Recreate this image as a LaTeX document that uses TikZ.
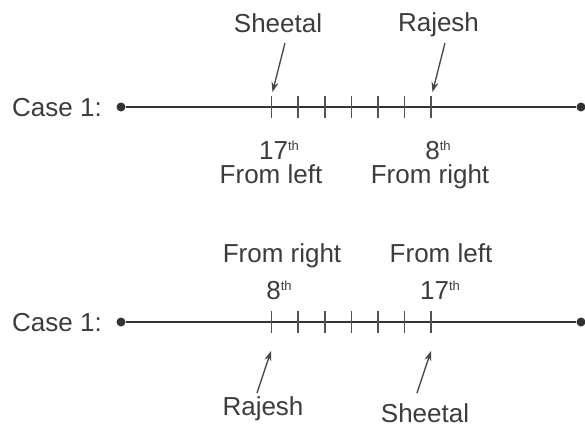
\documentclass[tikz,border=0pt]{standalone}
\usepackage{fontspec}
\setmainfont{Liberation Sans}
\usetikzlibrary{arrows.meta}
\definecolor{txt}{HTML}{3C3C3C}
\definecolor{ln}{HTML}{333333}
\newcommand{\thsup}{\raisebox{8.5pt}{\fontsize{13}{13}\selectfont th}}
\tikzset{
  lbl/.style={inner sep=0pt, anchor=base, text=txt, font=\fontsize{26}{30}\selectfont},
  mainline/.style={draw=ln, line width=2pt},
  tickmark/.style={draw=ln!85, line width=1.6pt},
  enddot/.style={circle, fill=ln, inner sep=0pt, minimum size=9pt},
  ptr/.style={draw=ln!90, line width=1.3pt, -{Stealth[length=10pt,width=7pt]}},
}
\begin{document}
\begin{tikzpicture}[x=1pt,y=-1pt]
\useasboundingbox (0,0) rectangle (585,429);
\fill[white] (0,0) rectangle (585,429);

% ---------- Case 1 (top) ----------
\node[lbl, anchor=base west] (c1) at (12,116) {Case 1:};
\node[enddot] (l1) at (121,107) {};
\node[enddot] (r1) at (581,107) {};
\draw[mainline] (l1) -- (r1);
\foreach \i in {0,...,6} {
  \coordinate (a\i) at ({271.5+26.6*\i},96);
  \coordinate (b\i) at ({271.5+26.6*\i},118);
  \draw[tickmark] (a\i) -- (b\i);
}
\node[lbl] (sh1) at (278,32) {Sheetal};
\node[lbl] (ra1) at (438.5,31) {Rajesh};
\coordinate (sh1t) at (285,43);
\coordinate (sh1h) at (272.5,92);
\coordinate (ra1t) at (445,43);
\coordinate (ra1h) at (432.5,92);
\draw[ptr] (sh1t) -- (sh1h);
\draw[ptr] (ra1t) -- (ra1h);
\node[lbl] (n17a) at (279,159) {17\thsup};
\node[lbl] (n8a) at (438,159) {8\thsup};
\node[lbl] (fla) at (271,183) {From left};
\node[lbl] (fra) at (430,183) {From right};

% ---------- Case 1 (bottom) ----------
\node[lbl, anchor=base west] (c2) at (12,331) {Case 1:};
\node[enddot] (l2) at (121,322) {};
\node[enddot] (r2) at (581,322) {};
\draw[mainline] (l2) -- (r2);
\foreach \i in {0,...,6} {
  \coordinate (c\i) at ({271.5+26.6*\i},311);
  \coordinate (d\i) at ({271.5+26.6*\i},333);
  \draw[tickmark] (c\i) -- (d\i);
}
\node[lbl] (frb) at (282,262) {From right};
\node[lbl] (flb) at (441,262) {From left};
\node[lbl] (n8b) at (279,299) {8\thsup};
\node[lbl] (n17b) at (440,299) {17\thsup};
\node[lbl] (ra2) at (263,415) {Rajesh};
\node[lbl] (sh2) at (425,422) {Sheetal};
\coordinate (ra2t) at (257,393);
\coordinate (ra2h) at (271,351);
\coordinate (sh2t) at (417,393);
\coordinate (sh2h) at (431,351);
\draw[ptr] (ra2t) -- (ra2h);
\draw[ptr] (sh2t) -- (sh2h);
\end{tikzpicture}
\end{document}
